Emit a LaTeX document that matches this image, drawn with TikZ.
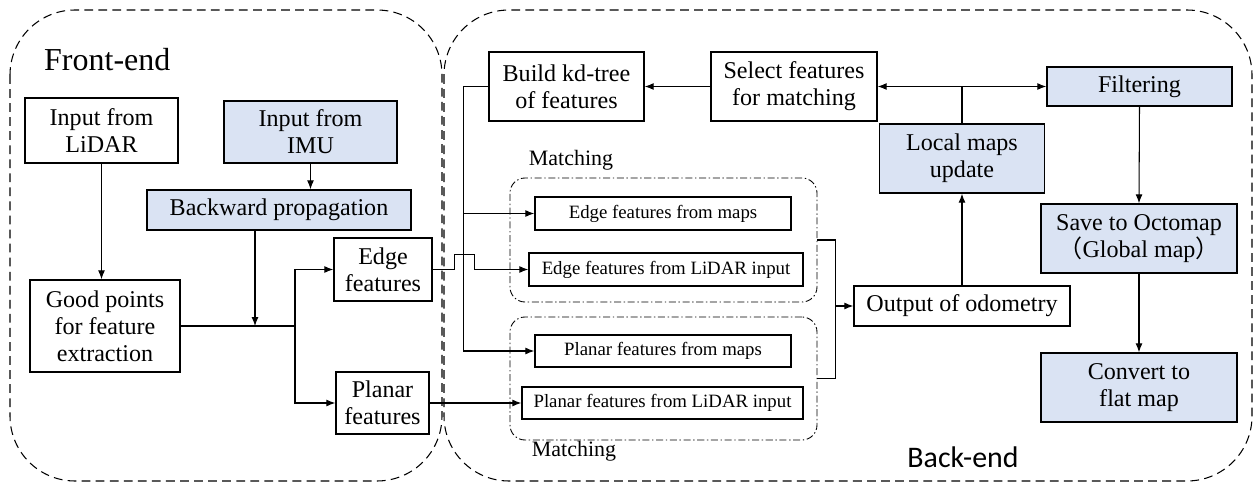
\documentclass[tikz,border=0pt]{standalone}
\usepackage{fontspec}
\setmainfont{Liberation Serif}
\newfontfamily\sidefont{Carlito}
\newfontfamily\cjkfont{Noto Sans CJK SC}
\usepackage{tikz}
\usetikzlibrary{arrows.meta}
\definecolor{boxblue}{RGB}{218,227,243}

\tikzset{
  blk/.style={draw, line width=0.8pt, inner sep=0pt, align=center, font=\fontsize{13.7}{15.4}\selectfont},
  hl/.style={blk, fill=boxblue},
  small/.style={blk, font=\fontsize{10.7}{12}\selectfont},
  wh/.style 2 args={minimum width=#1*0.02cm, minimum height=#2*0.02cm},
  region/.style={dash pattern=on 5pt off 3pt, line width=0.6pt, rounded corners=1.3cm},
  group/.style={draw, dash pattern=on 4pt off 1.5pt on 0.8pt off 1.5pt, line width=0.5pt, rounded corners=0.3cm, minimum width=307*0.02cm},
  link/.style={line width=0.6pt, >={Latex[length=1.8mm,width=1.4mm]}},
}

\begin{document}
\begin{tikzpicture}[x=0.02cm, y=-0.02cm]
  \useasboundingbox (0,0) rectangle (1255,483);
  \draw[region] (10,10) rectangle (442,481);
  \draw[region] (444,10) rectangle (1252,481);
  \node[anchor=west, font=\fontsize{18.2}{20}\selectfont] (fe) at (38,60) {Front-end};
  \node[font=\sidefont\fontsize{17}{19}\selectfont] (be) at (963,457) {Back-end};

  % front-end blocks
  \node[blk, wh={153}{65}] (lidar) at (101.5,130.5) {Input from\\LiDAR};
  \node[hl, wh={173}{62}] (imu) at (310.5,132) {Input from\\IMU};
  \node[hl, wh={264}{40}] (bprop) at (279,210) {Backward propagation};
  \node[blk, wh={150}{92}] (good) at (105,326) {Good points\\for feature\\extraction};
  \node[blk, wh={98}{63}] (edge) at (383,269.5) {Edge\\features};
  \node[blk, wh={93}{62}] (planar) at (382.5,403) {Planar\\features};

  % back-end blocks
  \node[blk, wh={155}{69}] (kd) at (566.5,86.5) {Build kd-tree\\of features};
  \node[blk, wh={166}{69}] (sel) at (794,86.5) {Select features\\for matching};
  \node[hl, wh={185}{39}] (filt) at (1139.5,86.5) {Filtering};
  \node[hl, wh={165}{69}] (lmu) at (962,158.5) {Local maps\\update};
  \node[hl, wh={196}{69}] (save) at (1139,238.5) {Save to Octomap\\{\cjkfont （}Global map{\cjkfont ）}};
  \node[hl, wh={196}{69}] (conv) at (1139,387.5) {Convert to\\flat map};
  \node[blk, wh={216}{40}] (odo) at (962,306) {Output of odometry};

  % matching groups
  \node[group, minimum height=124*0.02cm] (g1) at (663.5,240) {};
  \node[group, minimum height=123*0.02cm] (g2) at (663.5,378.5) {};
  \node[font=\fontsize{12.5}{14}\selectfont] (m1) at (571,160) {Matching};
  \node[font=\fontsize{12.5}{14}\selectfont] (m2) at (574,451) {Matching};
  \node[small, wh={256}{33}] (emap) at (663,213.5) {Edge features from maps};
  \node[small, wh={274}{33}] (elid) at (666,269.5) {Edge features from LiDAR input};
  \node[small, wh={256}{32}] (pmap) at (663,351) {Planar features from maps};
  \node[small, wh={281}{32}] (plid) at (662.5,403) {Planar features from LiDAR input};

  \coordinate (split) at (295,326);
  \coordinate (jn) at (255,326);
  \path[link,->]
  (lidar.south) edge (lidar.south |- good.north)
  (imu.south) edge (imu.south |- bprop.north)
  (jn |- bprop.south) edge (jn)
  (split) edge[to path={|- (\tikztotarget)}] (edge.west)
  (split) edge[to path={|- (\tikztotarget)}] (planar.west)
  (planar.east) edge (plid.west)
  (sel.west) edge (kd.east)
  (filt.south) edge (save.north)
  (save.south) edge (conv.north)
  (lmu.south |- odo.north) edge (lmu.south)
  ;
  \draw[link] (good.east) -- (split);

  % kd-tree feeds both map feature blocks
  \draw[link] (kd.west) -- ++(-25,0) coordinate (bus);
  \draw[link,->] (bus) |- (pmap.west);
  \draw[link,->] (bus |- emap.west) -- (emap.west);
  \draw[link,->] (edge.east) -- ++(22,0) -- ++(0,-15) -- ++(20,0) -- ++(0,15) -- (elid.west);

  % map update goes both ways
  \draw[link] (lmu.north) -- (lmu.north |- sel.east) coordinate (upd);
  \draw[link,->] (upd) -- (sel.east);
  \draw[link,->] (upd) -- (filt.west);

  % both matching groups give the odometry
  \draw[link] (g1.east) -- ++(18,0) coordinate (br) -- (br |- g2.east) -- (g2.east);
  \draw[link,->] (br |- odo.west) -- (odo.west);
\end{tikzpicture}
\end{document}
